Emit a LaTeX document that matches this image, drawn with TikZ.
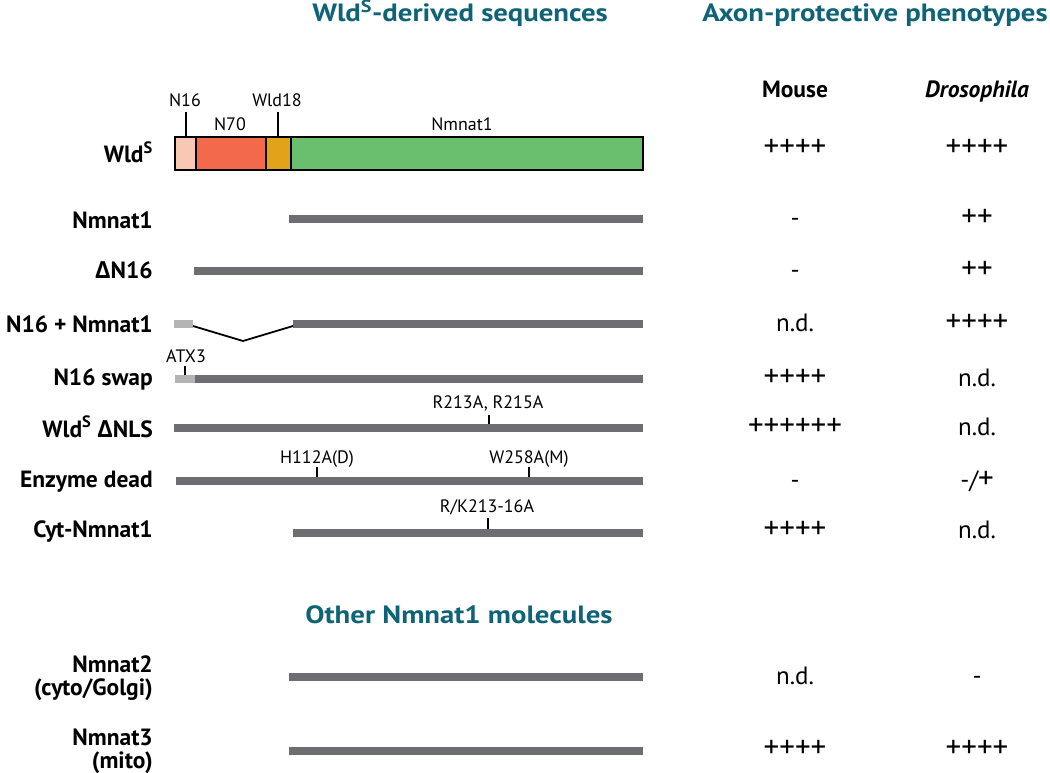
\documentclass[tikz,border=0pt]{standalone}
\usepackage{fontspec}
\setmainfont{PT Sans}
\newfontfamily\dfont{Open Sans}
\newfontfamily\headfont{PT Sans}[FakeStretch=1.15]
\definecolor{teal2}{RGB}{14,100,118}
\definecolor{bargray}{RGB}{109,110,113}
\definecolor{lightbar}{RGB}{180,180,182}
\definecolor{pinkseg}{RGB}{249,200,180}
\definecolor{redseg}{RGB}{242,105,76}
\definecolor{orangeseg}{RGB}{226,163,26}
\definecolor{greenseg}{RGB}{106,191,111}
\newcommand{\dlt}{{\dfont Δ}}
\newcommand{\pp}{{\fontsize{31}{31}\selectfont +}}
\begin{document}
\begin{tikzpicture}[x=1pt,y=-1pt,
  lab/.style={font=\bfseries\fontsize{23.5}{27}\selectfont, anchor=base east, inner sep=0pt},
  val/.style={font=\fontsize{25}{28}\selectfont, anchor=base, inner sep=0pt},
  colhead/.style={font=\bfseries\fontsize{23.5}{26}\selectfont, anchor=base, inner sep=0pt},
  small/.style={font=\fontsize{18}{20}\selectfont, anchor=base, inner sep=0pt},
  head/.style={font=\headfont\bfseries\fontsize{25}{28}\selectfont, text=teal2, anchor=base, inner sep=0pt},
  tick/.style={line width=1.6pt, draw=black},
  seg/.style={draw=black, line width=1.6pt}]
\useasboundingbox (0,0) rectangle (1050,773);
% headings
\node[head] (h1) at (460,22) {Wld\textsuperscript{S}-derived sequences};
\node[head] (h2) at (875,22) {Axon-protective phenotypes};
\node[head] (h3) at (459,623) {Other Nmnat1 molecules};
\node[colhead] (cm) at (795,98) {Mouse};
\node[colhead] (cd) at (977,98) {\itshape Drosophila};
% WldS box
\fill[pinkseg] (175,137) rectangle (196,170);
\fill[redseg] (196,137) rectangle (266,170);
\fill[orangeseg] (266,137) rectangle (291,170);
\fill[greenseg] (291,137) rectangle (643,170);
\draw[seg] (175,137) rectangle (643,170);
\draw[seg] (196,137) -- (196,170);
\draw[seg] (266,137) -- (266,170);
\draw[seg] (291,137) -- (291,170);
\node[small] (lN16) at (185,107) {N16};
\node[small] (lW18) at (277,107) {Wld18};
\node[small] (lN70) at (230,131) {N70};
\node[small] (lNm) at (462,131) {Nmnat1};
\coordinate (t1) at (186,112); \coordinate (t1b) at (186,137);
\coordinate (t2) at (278,112); \coordinate (t2b) at (278,137);
\draw[tick] (t1) -- (t1b);
\draw[tick] (t2) -- (t2b);
% bars
\fill[bargray] (289,215) rectangle (643,223);
\fill[bargray] (194,267) rectangle (643,275);
% N16 + Nmnat1
\fill[lightbar] (174,320) rectangle (193,328);
\fill[bargray] (293,320) rectangle (643,328);
\coordinate (j1) at (193,326); \coordinate (j2) at (243,341); \coordinate (j3) at (293,326);
\draw[line width=1.8pt] (j1) -- (j2) -- (j3);
% N16 swap
\fill[lightbar] (175,375) rectangle (195,383);
\fill[bargray] (195,375) rectangle (643,383);
\node[small] (lATX) at (186,362) {ATX3};
\draw[tick] (185,366) -- (185,375);
% WldS dNLS
\fill[bargray] (174,424) rectangle (643,432);
\node[small] (lR) at (488,408) {R213A, R215A};
\draw[tick] (489,415) -- (489,424);
% Enzyme dead
\fill[bargray] (176,477) rectangle (643,485);
\node[small] (lH) at (317,463) {H112A(D)};
\node[small] (lWm) at (529,463) {W258A(M)};
\draw[tick] (317,467) -- (317,477);
\draw[tick] (529,467) -- (529,477);
% Cyt
\fill[bargray] (293,529) rectangle (643,537);
\node[small] (lRK) at (487,512) {R/K213-16A};
\draw[tick] (488,518) -- (488,529);
% Nmnat2, 3
\fill[bargray] (289,673) rectangle (643,681);
\fill[bargray] (289,747) rectangle (643,755);
% row labels
\node[lab] (r1) at (153,163) {Wld\textsuperscript{S}};
\node[lab] (r2) at (153,228) {Nmnat1};
\node[lab] (r3) at (153,278) {\dlt N16};
\node[lab] (r4) at (153,332) {N16 + Nmnat1};
\node[lab] (r5) at (153,385) {N16 swap};
\node[lab] (r6) at (153,437) {Wld\textsuperscript{S} \dlt NLS};
\node[lab] (r7) at (153,487) {Enzyme dead};
\node[lab] (r8) at (153,537) {Cyt-Nmnat1};
\node[lab] (r9) at (153,672) {Nmnat2};
\node[lab] (r9b) at (153,695) {(cyto/Golgi)};
\node[lab] (r10) at (153,745) {Nmnat3};
\node[lab] (r10b) at (153,768) {(mito)};
% values
\node[val] (m1) at (795,157) {\pp\pp\pp\pp};   \node[val] (d1) at (977,157) {\pp\pp\pp\pp};
\node[val] (m2) at (795,226) {-};      \node[val] (d2) at (977,226) {\pp\pp};
\node[val] (m3) at (795,278) {-};      \node[val] (d3) at (977,278) {\pp\pp};
\node[val] (m4) at (795,331) {n.d.};   \node[val] (d4) at (977,331) {\pp\pp\pp\pp};
\node[val] (m5) at (795,386) {\pp\pp\pp\pp};   \node[val] (d5) at (977,386) {n.d.};
\node[val] (m6) at (795,435) {\pp\pp\pp\pp\pp\pp}; \node[val] (d6) at (977,435) {n.d.};
\node[val] (m7) at (795,488) {-};      \node[val] (d7) at (977,488) {-/\pp};
\node[val] (m8) at (795,538) {\pp\pp\pp\pp};   \node[val] (d8) at (977,538) {n.d.};
\node[val] (m9) at (795,684) {n.d.};   \node[val] (d9) at (977,684) {-};
\node[val] (m10) at (795,757) {\pp\pp\pp\pp};  \node[val] (d10) at (977,757) {\pp\pp\pp\pp};
\end{tikzpicture}
\end{document}
